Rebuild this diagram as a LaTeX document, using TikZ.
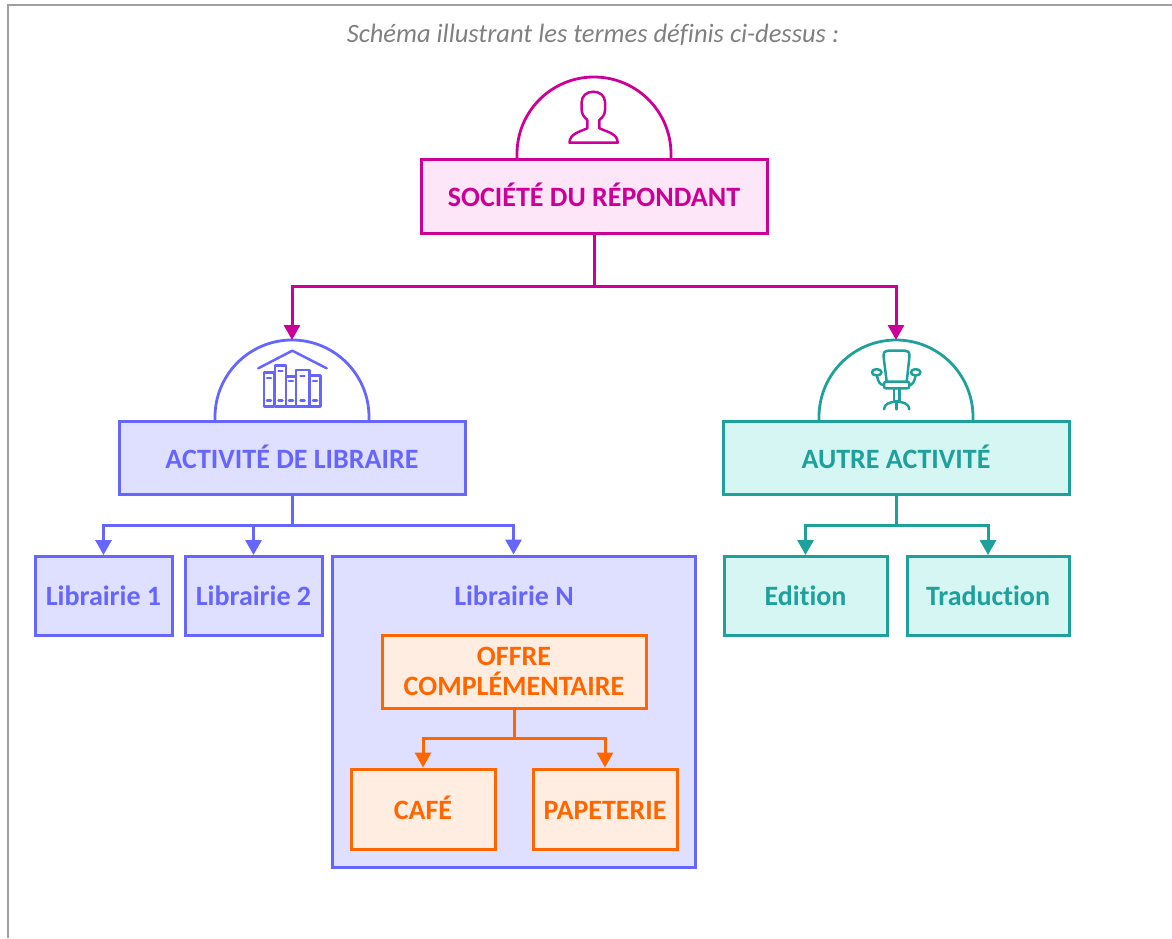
\documentclass[tikz,border=0pt]{standalone}
\usepackage{fontspec}
\setmainfont{Carlito}[RawFeature=-liga]
\usetikzlibrary{arrows.meta}
\definecolor{socline}{HTML}{CC0099}
\definecolor{socfill}{HTML}{FDE6F8}
\definecolor{libline}{HTML}{6666FF}
\definecolor{libfill}{HTML}{DFE0FF}
\definecolor{autline}{HTML}{1FA19B}
\definecolor{autfill}{HTML}{D5F6F3}
\definecolor{offline}{HTML}{FF6600}
\definecolor{offfill}{HTML}{FFEDE1}
\newcommand\upone[1]{\raisebox{2pt}{#1}}
\tikzset{
  box/.style={draw=#1line, fill=#1fill, text=#1line, line width=3pt, inner sep=0pt, align=center, font=\bfseries\fontsize{28}{30}\selectfont},
  link/.style={draw=#1line, line width=3pt, -{Triangle[length=15pt,width=16pt]}},
  stem/.style={draw=#1line, line width=3pt},
  dome/.style={draw=#1line, line width=2.8pt},
  icon/.style={draw=#1line, line width=2.5pt, line join=round, line cap=round}
}
\begin{document}
\begin{tikzpicture}[x=1pt, y=1pt]
\useasboundingbox (0,0) rectangle (1172,-938);
\draw[gray!75, line width=1.5pt] (8,-938) -- (8,-5) -- (1172,-5);
\node[text=gray, font=\itshape\fontsize{26.5}{30}\selectfont] (title) at (593,-35) {Schéma illustrant les termes définis ci-dessus :};
% domes
\draw[dome=soc] (517,-159) -- (517,-154) arc (180:0:77) -- (671,-159);
\draw[dome=lib] (215,-421) -- (215,-417) arc (180:0:77) -- (369,-421);
\draw[dome=aut] (819,-421) -- (819,-417) arc (180:0:77) -- (973,-421);
\coordinate (libtop) at (292,-340);
\coordinate (auttop) at (896,-340);
% main boxes
\node[box=soc, minimum width=346pt, minimum height=74pt] (societe) at (594,-196) {\upone{SOCIÉTÉ DU RÉPONDANT}};
\node[box=lib, minimum width=346pt, minimum height=73pt] (libraire) at (292,-458) {\upone{ACTIVITÉ DE LIBRAIRE}};
\node[box=aut, minimum width=346pt, minimum height=73pt] (autre) at (896,-458) {\upone{AUTRE ACTIVITÉ}};
\node[box=lib, minimum width=137pt, minimum height=79pt] (lib1) at (103.5,-596) {Librairie 1};
\node[box=lib, minimum width=137pt, minimum height=79pt] (lib2) at (253.5,-596) {Librairie 2};
\node[box=lib, minimum width=363pt, minimum height=311pt] (libn) at (513.5,-711.5) {};
\node[text=libline, font=\bfseries\fontsize{28}{30}\selectfont] (libntext) at (514,-596) {Librairie N};
\node[box=aut, minimum width=163pt, minimum height=79pt] (edition) at (805.5,-596) {Edition};
\node[box=aut, minimum width=162pt, minimum height=79pt] (traduction) at (988,-596) {Traduction};
\node[box=off, minimum width=264pt, minimum height=73pt] (offre) at (514,-671.5) {OFFRE\\COMPLÉMENTAIRE};
\node[box=off, minimum width=144pt, minimum height=80pt] (cafe) at (423,-809) {\upone{CAFÉ}};
\node[box=off, minimum width=144pt, minimum height=80pt] (papeterie) at (605,-809) {\upone{\vphantom{É}PAPETERIE}};
% connectors
\coordinate (socfork) at (594,-286);
\coordinate (libfork) at (292,-525);
\coordinate (autfork) at (896,-525);
\coordinate (offfork) at (514,-738);
\draw[stem=soc] (societe.south) -- (socfork);
\draw[link=soc] (socfork) -| (libtop);
\draw[link=soc] (socfork) -| (auttop);
\draw[stem=lib] (libraire.south) -- (libfork);
\draw[link=lib] (libfork) -| (lib1.north);
\draw[link=lib] (libfork) -| (lib2.north);
\draw[link=lib] (libfork) -| (libn.north);
\draw[stem=aut] (autre.south) -- (autfork);
\draw[link=aut] (autfork) -| (edition.north);
\draw[link=aut] (autfork) -| (traduction.north);
\draw[stem=off] (offre.south) -- (offfork);
\draw[link=off] (offfork) -| (cafe.north);
\draw[link=off] (offfork) -| (papeterie.north);
% person
\draw[icon=soc] (569.5,-142.7) -- (617.7,-142.7) .. controls (617.7,-134) and (608,-132) .. (599.3,-128.3) -- (599.3,-120)
  .. controls (603,-117) and (605,-114) .. (605,-110) -- (605,-102) .. controls (605,-96) and (600,-91.7) .. (593.3,-91.7)
  .. controls (586.5,-91.7) and (581.7,-96) .. (581.7,-102) -- (581.7,-110) .. controls (581.7,-114) and (584,-117) .. (587.3,-120)
  -- (587.3,-128.3) .. controls (579,-132) and (569.5,-134) .. (569.5,-142.7) -- cycle;
% books
\draw[icon=lib] (258.3,-368.3) -- (292.3,-350.7) -- (326.7,-368.3);
\draw[icon=lib] (264,-406.7) rectangle (274,-372.7);
\draw[icon=lib] (275,-406.7) rectangle (286,-365.3);
\draw[icon=lib] (286,-406.7) rectangle (296,-376.7);
\draw[icon=lib] (296,-406.7) rectangle (309.3,-370);
\draw[icon=lib] (309.3,-406.7) rectangle (320.7,-375.7);
\foreach \xa/\ya in {269/378, 280.5/371, 291/381, 302.5/376, 315/381}
  \draw[icon=lib] (\xa-2,-\ya) -- (\xa+2,-\ya) (\xa-2,-400.7) -- (\xa+2,-400.7);
% chair
\draw[icon=aut] (886.7,-381.7) -- (883.5,-356) .. controls (883.5,-352) and (885,-350.7) .. (888,-350.7) -- (905,-350.7)
  .. controls (908,-350.7) and (909.5,-352) .. (909.5,-356) -- (906.7,-381.7);
\draw[icon=aut, rounded corners=2pt] (884,-381.7) rectangle (909.3,-388.3);
\draw[icon=aut] (876.7,-372.3) ellipse (4.8 and 3.2) (915.7,-372.3) ellipse (4.8 and 3.2);
\draw[icon=aut] (877,-375.5) .. controls (878,-382) and (880,-385) .. (884,-385) (915.5,-375.5) .. controls (914.5,-382) and (912.5,-385) .. (909.3,-385);
\draw[icon=aut] (894,-388.3) -- (894,-401.7) -- (899.3,-401.7) -- (899.3,-388.3);
\draw[icon=aut] (884,-409.3) .. controls (884,-404) and (890,-401.7) .. (896.7,-401.7) .. controls (903,-401.7) and (909.3,-404) .. (909.3,-409.3);
\draw[icon=aut] (896.7,-401.7) -- (896.7,-409.3);
\end{tikzpicture}
\end{document}
